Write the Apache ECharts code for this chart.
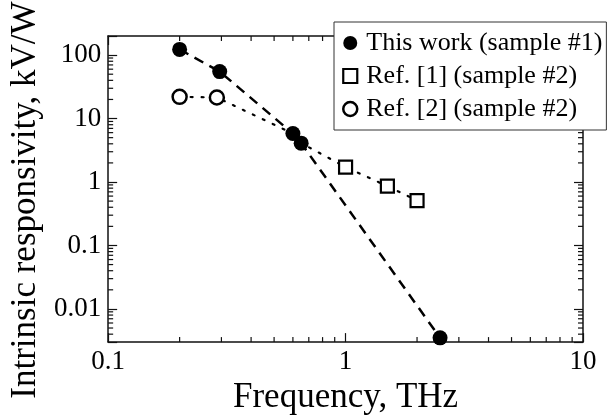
<!DOCTYPE html>
<html>
<head>
<meta charset="utf-8">
<title>Intrinsic responsivity vs frequency</title>
<script src="https://cdn.jsdelivr.net/npm/echarts@6/dist/echarts.min.js"></script>
<style>
  html, body { margin: 0; padding: 0; background: #fff; }
  #chart { width: 608px; height: 420px; }
</style>
</head>
<body>
<div id="chart"></div>
<script>
// frequency (THz) and intrinsic responsivity (kV/W)
const thisWorkFreq = [0.2, 0.295, 0.6, 0.65, 2.5]
const thisWorkResp = [123, 55, 5.8, 4.1, 0.0035]
const ref1Freq = [1.0, 1.5, 2.0]
const ref1Resp = [1.72, 0.86, 0.51]
const ref2Freq = [0.2, 0.287]
const ref2Resp = [22, 21.5]

const xMinorTicks = [0.2, 0.3, 0.4, 0.5, 0.6, 0.7, 0.8, 0.9, 2, 3, 4, 5, 6, 7, 8, 9]
const yMinorTicks = [0.004, 0.005, 0.006, 0.007, 0.008, 0.009,
  0.02, 0.03, 0.04, 0.05, 0.06, 0.07, 0.08, 0.09,
  0.2, 0.3, 0.4, 0.5, 0.6, 0.7, 0.8, 0.9,
  2, 3, 4, 5, 6, 7, 8, 9,
  20, 30, 40, 50, 60, 70, 80, 90]

const names = ['This work (sample #1)', 'Ref. [1] (sample #2)', 'Ref. [2] (sample #2)']

const pairs = (xs, ys) => xs.map((x, i) => [x, ys[i]])
const thisWork = pairs(thisWorkFreq, thisWorkResp)
const ref1 = pairs(ref1Freq, ref1Resp)
const ref2 = pairs(ref2Freq, ref2Resp)
// dotted guide runs through ref [2], the two middle points of this work, then ref [1]
const dottedPath = ref2.concat(thisWork.slice(2, 4), ref1)

const serif = 'Liberation Serif, Times New Roman, serif'
const ink = '#111'
const openStyle = { color: '#fff', borderColor: '#000', borderWidth: 2.5, opacity: 1 }

// only label whole decades
function decadeLabel (v) {
  const e = Math.log10(v)
  if (Math.abs(e - Math.round(e)) > 1e-6) return ''
  return String(+Math.pow(10, Math.round(e)).toPrecision(1))
}

function axisBase (extra) {
  return Object.assign({
    type: 'log',
    logBase: 10,
    axisLine: { lineStyle: { color: ink, width: 1.5 } },
    axisTick: { inside: true, length: 9, lineStyle: { color: ink, width: 1.2 } },
    splitLine: { show: false },
    minorTick: { show: false }
  }, extra)
}

// short inside ticks at 2..9 of each decade, drawn on both sides of the frame
function minorTickItem (isX) {
  return function (params, api) {
    const cs = params.coordSys
    const v = api.value(isX ? 0 : 1)
    const len = 5
    const style = { stroke: ink, lineWidth: 1.2 }
    if (isX) {
      const px = api.coord([v, 1])[0]
      return {
        type: 'group',
        children: [
          { type: 'line', shape: { x1: px, y1: cs.y + cs.height, x2: px, y2: cs.y + cs.height - len }, style: style },
          { type: 'line', shape: { x1: px, y1: cs.y, x2: px, y2: cs.y + len }, style: style }
        ]
      }
    }
    const py = api.coord([1, v])[1]
    return {
      type: 'group',
      children: [
        { type: 'line', shape: { x1: cs.x, y1: py, x2: cs.x + len, y2: py }, style: style },
        { type: 'line', shape: { x1: cs.x + cs.width, y1: py, x2: cs.x + cs.width - len, y2: py }, style: style }
      ]
    }
  }
}

const chart = echarts.init(document.getElementById('chart'))
const option = {
  animation: false,
  backgroundColor: '#fff',
  textStyle: { fontFamily: serif, color: '#000' },
  grid: { left: 107, right: 25, top: 36, bottom: 64 },
  legend: {
    data: [
      { name: names[0], icon: 'circle', itemStyle: { color: '#000', borderWidth: 0, opacity: 1 } },
      { name: names[1], icon: 'rect', itemStyle: { color: '#fff', borderColor: '#000', borderWidth: 2.2, opacity: 1 } },
      { name: names[2], icon: 'circle', itemStyle: openStyle }
    ],
    orient: 'vertical',
    left: 334,
    top: 22,
    padding: [8, 4, 8, 8],
    itemWidth: 14,
    itemHeight: 14,
    itemGap: 7,
    backgroundColor: '#fff',
    borderColor: '#333',
    borderWidth: 1,
    borderRadius: 0,
    textStyle: { fontFamily: serif, fontSize: 26, lineHeight: 26, color: '#000', padding: [0, 0, 0, 4] }
  },
  xAxis: [
    axisBase({
      min: 0.1,
      max: 10,
      position: 'bottom',
      name: 'Frequency, THz',
      nameLocation: 'middle',
      nameGap: 22,
      nameTextStyle: { fontFamily: serif, fontSize: 35, color: '#000' },
      axisLabel: { fontFamily: serif, fontSize: 27, color: '#000', margin: 6, formatter: decadeLabel }
    }),
    axisBase({ min: 0.1, max: 10, position: 'top', axisLabel: { show: false } })
  ],
  yAxis: [
    axisBase({
      min: 0.003,
      max: 200,
      position: 'left',
      name: 'Intrinsic responsivity, kV/W',
      nameLocation: 'middle',
      nameGap: 58,
      nameTextStyle: { fontFamily: serif, fontSize: 35, color: '#000', padding: [0, 22, 0, 0] },
      axisLabel: { fontFamily: serif, fontSize: 27, color: '#000', margin: 7, formatter: decadeLabel }
    }),
    axisBase({ min: 0.003, max: 200, position: 'right', axisLabel: { show: false } })
  ],
  series: [
    {
      name: 'x minor ticks',
      type: 'custom',
      silent: true,
      renderItem: minorTickItem(true),
      data: xMinorTicks.map(v => [v, 1]),
      z: 1
    },
    {
      name: 'y minor ticks',
      type: 'custom',
      silent: true,
      renderItem: minorTickItem(false),
      data: yMinorTicks.map(v => [1, v]),
      z: 1
    },
    {
      name: 'dotted guide',
      type: 'line',
      data: dottedPath,
      symbol: 'none',
      lineStyle: { color: '#000', width: 2.2, type: [2, 9], cap: 'round' },
      z: 2
    },
    {
      name: names[0],
      type: 'line',
      data: thisWork,
      symbol: 'circle',
      symbolSize: 15,
      itemStyle: { color: '#000' },
      lineStyle: { color: '#000', width: 2.5, type: [10, 7] },
      z: 4
    },
    {
      name: names[1],
      type: 'scatter',
      data: ref1,
      symbol: 'rect',
      symbolSize: 13,
      itemStyle: { color: '#fff', borderColor: '#000', borderWidth: 2.2, opacity: 1 },
      z: 3
    },
    {
      name: names[2],
      type: 'scatter',
      data: ref2,
      symbol: 'circle',
      symbolSize: 14,
      itemStyle: openStyle,
      z: 3
    }
  ]
}
chart.setOption(option)
window.onresize = () => chart.resize()
</script>
</body>
</html>
